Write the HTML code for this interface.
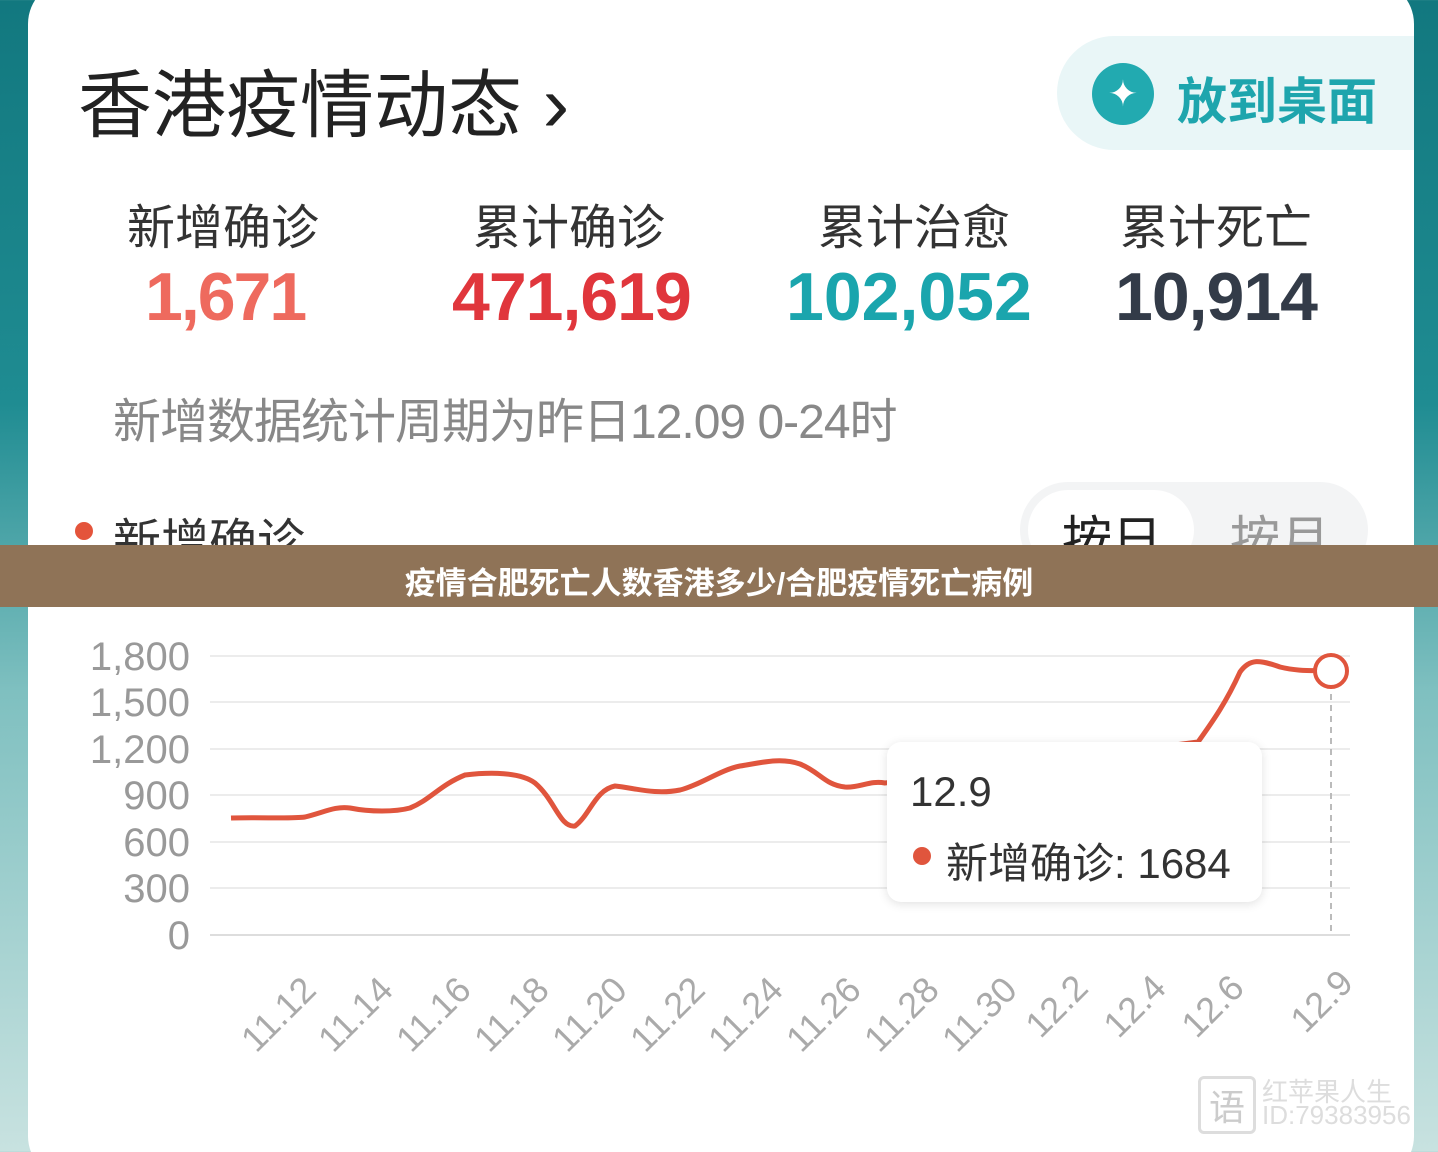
<!DOCTYPE html>
<html><head><meta charset="utf-8"><style>
html,body{margin:0;width:1438px;height:1152px;overflow:hidden;}
body{position:relative;font-family:"Liberation Sans","Noto Sans CJK SC",sans-serif;background:linear-gradient(#12787f 0%,#1f8c92 35%,#7fc0c0 60%,#c8e2e0 100%);}
.card{position:absolute;left:28px;top:-20px;width:1386px;height:1200px;background:#fff;border-radius:44px;overflow:hidden;}
.t{position:absolute;white-space:nowrap;}
</style></head><body>
<div class="card"></div>
<div class="t" style="left:78px;top:46px;font-size:74px;color:#222;">香港疫情动态 <span style="font-size:80px;">›</span></div>
<div style="position:absolute;left:1057px;top:36px;width:357px;height:114px;border-radius:57px 0 0 57px;background:#e9f6f7;"></div>
<div style="position:absolute;left:1092px;top:63px;width:62px;height:62px;border-radius:50%;background:#22aab0;color:#fff;font-size:36px;text-align:center;line-height:62px;">✦</div>
<div class="t" style="left:1177px;top:62px;font-size:50px;color:#1ea5ad;font-weight:bold;">放到桌面</div>
<div class="t" style="left:127px;top:188px;font-size:48px;color:#333;">新增确诊</div>
<div class="t" style="left:473px;top:188px;font-size:48px;color:#333;">累计确诊</div>
<div class="t" style="left:818px;top:188px;font-size:48px;color:#333;">累计治愈</div>
<div class="t" style="left:1120px;top:188px;font-size:48px;color:#333;">累计死亡</div>
<div class="t" style="left:145px;top:258px;font-size:68px;font-weight:bold;color:#ee6a5e;letter-spacing:-2px;">1,671</div>
<div class="t" style="left:452px;top:258px;font-size:68px;font-weight:bold;color:#e0363c;letter-spacing:-1px;">471,619</div>
<div class="t" style="left:786px;top:258px;font-size:68px;font-weight:bold;color:#1aa5ad;letter-spacing:0px;">102,052</div>
<div class="t" style="left:1115px;top:258px;font-size:68px;font-weight:bold;color:#333b48;letter-spacing:-1px;">10,914</div>
<div class="t" style="left:113px;top:382px;font-size:48px;color:#888;letter-spacing:-1px;">新增数据统计周期为昨日12.09 0-24时</div>
<div style="position:absolute;left:75px;top:522px;width:18px;height:18px;border-radius:50%;background:#e4543b;"></div>
<div class="t" style="left:113px;top:502px;font-size:48px;color:#333;">新增确诊</div>
<div style="position:absolute;left:1020px;top:482px;width:348px;height:96px;border-radius:48px;background:#f3f4f5;"></div>
<div style="position:absolute;left:1028px;top:490px;width:166px;height:80px;border-radius:40px;background:#fff;"></div>
<div class="t" style="left:1062px;top:500px;font-size:50px;color:#222;">按日</div>
<div class="t" style="left:1230px;top:500px;font-size:50px;color:#999;">按月</div>
<div style="position:absolute;left:0;top:545px;width:1438px;height:62px;background:#8f7357;"></div>
<div class="t" style="left:0;width:1438px;text-align:center;top:558px;font-size:31px;font-weight:bold;color:#fff;">疫情合肥死亡人数香港多少/合肥疫情死亡病例</div>
<svg style="position:absolute;left:0;top:0" width="1438" height="1152">
<g stroke="#ececec" stroke-width="2">
<line x1="210" x2="1350" y1="656" y2="656"/><line x1="210" x2="1350" y1="702" y2="702"/><line x1="210" x2="1350" y1="749" y2="749"/><line x1="210" x2="1350" y1="795" y2="795"/><line x1="210" x2="1350" y1="842" y2="842"/><line x1="210" x2="1350" y1="888" y2="888"/><line x1="210" x2="1350" y1="935" y2="935" stroke="#ddd"/></g>
<g font-family="Liberation Sans" font-size="40" fill="#999" text-anchor="end">
<text x="190" y="670">1,800</text><text x="190" y="716">1,500</text><text x="190" y="763">1,200</text><text x="190" y="809">900</text><text x="190" y="856">600</text><text x="190" y="902">300</text><text x="190" y="949">0</text></g>
<line x1="1331" y1="672" x2="1331" y2="935" stroke="#bbb" stroke-width="2" stroke-dasharray="6,5"/>
<path d="M231,818 C260,817 290,819 305,817 C325,812 335,806 350,808 C370,812 395,812 410,808 C430,800 440,785 465,775 C490,772 520,772 535,783 C555,800 560,828 575,826 C590,815 595,790 615,786 C635,788 655,795 680,790 C700,785 720,770 740,766 C760,763 780,757 800,764 C820,772 825,785 845,787 C860,788 870,780 885,783 L1198,742 C1210,725 1225,705 1240,672 C1250,658 1260,660 1280,667 C1300,672 1315,670 1331,671" fill="none" stroke="#e0553d" stroke-width="5"/>
<circle cx="1331" cy="671" r="16" fill="#fff" stroke="#e0553d" stroke-width="4"/>
<g font-family="Liberation Sans" font-size="36" fill="#aaa">
<text transform="translate(318,992) rotate(-45)" text-anchor="end">11.12</text>
<text transform="translate(395,992) rotate(-45)" text-anchor="end">11.14</text>
<text transform="translate(473,992) rotate(-45)" text-anchor="end">11.16</text>
<text transform="translate(551,992) rotate(-45)" text-anchor="end">11.18</text>
<text transform="translate(629,992) rotate(-45)" text-anchor="end">11.20</text>
<text transform="translate(707,992) rotate(-45)" text-anchor="end">11.22</text>
<text transform="translate(785,992) rotate(-45)" text-anchor="end">11.24</text>
<text transform="translate(863,992) rotate(-45)" text-anchor="end">11.26</text>
<text transform="translate(941,992) rotate(-45)" text-anchor="end">11.28</text>
<text transform="translate(1019,992) rotate(-45)" text-anchor="end">11.30</text>
<text transform="translate(1090,990) rotate(-45)" text-anchor="end">12.2</text>
<text transform="translate(1168,990) rotate(-45)" text-anchor="end">12.4</text>
<text transform="translate(1246,990) rotate(-45)" text-anchor="end">12.6</text>
<text transform="translate(1355,985) rotate(-45)" text-anchor="end">12.9</text></g>
</svg>
<div style="position:absolute;left:887px;top:742px;width:375px;height:160px;border-radius:14px;background:#fff;box-shadow:0 2px 10px rgba(0,0,0,0.12);"></div>
<div class="t" style="left:910px;top:768px;font-size:42px;color:#333;">12.9</div>
<div style="position:absolute;left:913px;top:847px;width:18px;height:18px;border-radius:50%;background:#e0553d;"></div>
<div class="t" style="left:946px;top:830px;font-size:42px;color:#333;">新增确诊: 1684</div>
<div class="t" style="left:1198px;top:1076px;width:52px;height:52px;border:3px solid #ddd;border-radius:6px;color:#ccc;font-size:36px;text-align:center;">语</div>
<div class="t" style="left:1262px;top:1072px;font-size:26px;color:#ddd;">红苹果人生</div>
<div class="t" style="left:1262px;top:1100px;font-size:26px;color:#ddd;">ID:79383956</div>
</body></html>
